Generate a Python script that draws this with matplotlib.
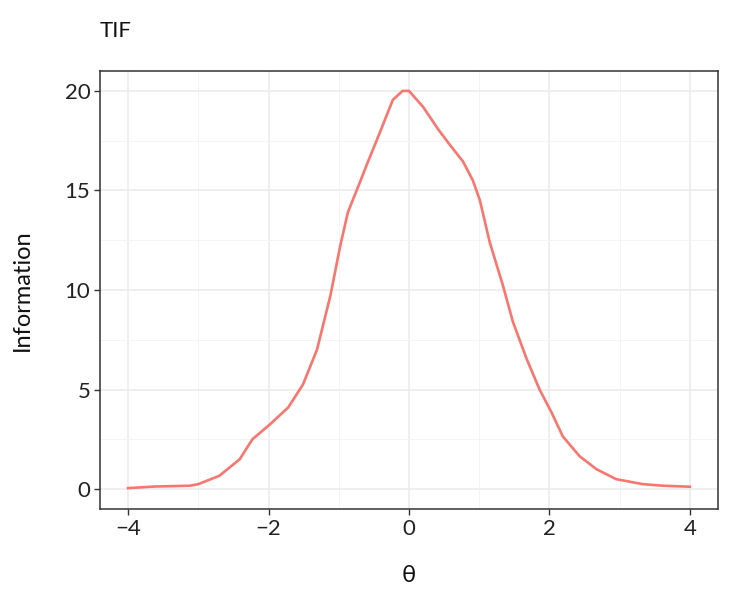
import numpy as np
import matplotlib
matplotlib.use("Agg")
import matplotlib.pyplot as plt
from matplotlib.ticker import MultipleLocator

# -----------------------------
# Test information function
# -----------------------------
theta = [-4.0, -3.62, -3.12, -3.0, -2.7, -2.41, -2.23, -1.98, -1.72, -1.51,
         -1.31, -1.12, -0.98, -0.87, -0.70, -0.60, -0.41, -0.23, -0.09, 0.0,
         0.2, 0.42, 0.58, 0.77, 0.91, 1.01, 1.15, 1.34, 1.48, 1.68,
         1.86, 2.03, 2.19, 2.43, 2.67, 2.95, 3.33, 3.62, 4.0]
information = [0.05, 0.13, 0.17, 0.25, 0.67, 1.5, 2.5, 3.25, 4.1, 5.25,
               7.0, 9.7, 12.2, 13.9, 15.4, 16.3, 17.95, 19.55, 20.0, 20.0,
               19.2, 18.05, 17.3, 16.45, 15.5, 14.5, 12.4, 10.2, 8.4, 6.5,
               5.0, 3.85, 2.65, 1.65, 1.0, 0.5, 0.25, 0.17, 0.12]

x_ticks = [-4, -2, 0, 2, 4]
y_ticks = [0, 5, 10, 15, 20]

plt.rcParams["font.family"] = ["Lato", "DejaVu Sans"]

fig = plt.figure(figsize=(7.33, 5.91), dpi=100)
ax = fig.add_axes([0.1364, 0.1387, 0.8431, 0.7412])

ax.plot(theta, information, color="#F8766D", linewidth=1.9, zorder=3)

ax.set_xlim(-4.4, 4.4)
ax.set_ylim(-1.0, 21.0)
ax.set_xticks(x_ticks)
ax.set_yticks(y_ticks)
ax.set_xticklabels(["\u2212" + str(-t) if t < 0 else str(t) for t in x_ticks])
ax.xaxis.set_minor_locator(MultipleLocator(1))
ax.yaxis.set_minor_locator(MultipleLocator(2.5))

# ggplot theme_bw look
ax.grid(which="major", color="#EBEBEB", linewidth=1.1)
ax.grid(which="minor", color="#F2F2F2", linewidth=0.6)
ax.set_axisbelow(True)
for s in ax.spines.values():
    s.set_color("#333333")
    s.set_linewidth(1.1)
ax.tick_params(which="major", length=4, width=1.0, color="#333333",
               labelsize=16, labelcolor="#222222", pad=3)
ax.tick_params(which="minor", length=0)

ax.set_xlabel("\u03b8", fontsize=17, color="#111111")
ax.set_ylabel("Information", fontsize=17, color="#111111")
ax.xaxis.set_label_coords(0.5, -0.128)
ax.yaxis.set_label_coords(-0.108, 0.5)
fig.text(0.1364, 0.947, "TIF", fontsize=16, color="#111111", ha="left", va="center")

fig.savefig("out.png", dpi=100)
